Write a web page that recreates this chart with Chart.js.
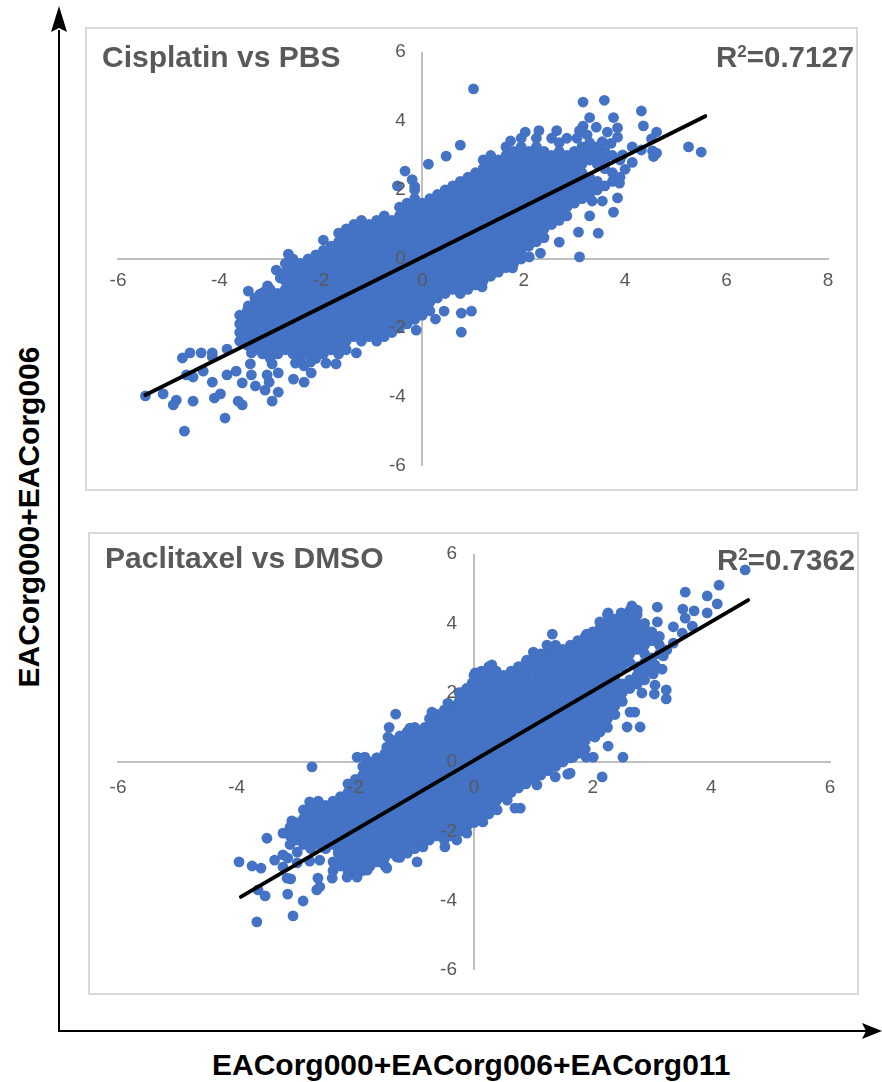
<!DOCTYPE html>
<html><head><meta charset="utf-8">
<script src="https://cdn.jsdelivr.net/npm/chart.js@4"></script>
<style>
html,body{margin:0;padding:0;background:#fff;width:882px;height:1082px;overflow:hidden}
body{position:relative;font-family:"Liberation Sans",Arial,sans-serif}
.frame{position:absolute;box-sizing:border-box;border:2px solid #d9d9d9;background:#fff}
.frame canvas{position:absolute;left:0;top:0}
.lab{position:absolute;font-weight:bold;color:#595959;font-size:30px;line-height:30px;white-space:nowrap}
.lab.r{font-size:29.5px}
.lab sup{font-size:17px;line-height:0;vertical-align:10px}
.axt{position:absolute;font-weight:bold;color:#000;font-size:30px;line-height:30px;white-space:nowrap}
svg{position:absolute;left:0;top:0}
</style></head><body>
<svg width="882" height="1082">
<line x1="59" y1="30" x2="59" y2="1031" stroke="#000" stroke-width="2"/>
<line x1="58" y1="1031" x2="866" y2="1031" stroke="#000" stroke-width="2"/>
<path d="M59 6 L67 32 L59 28 L51 32 Z" fill="#000"/>
<path d="M882 1031 L862 1023 L866 1031 L862 1039 Z" fill="#000"/>
</svg>
<div class="frame" style="left:85px;top:27px;width:773px;height:464px"><canvas id="c1" width="769" height="460"></canvas></div>
<div class="frame" style="left:88px;top:532px;width:771px;height:463px"><canvas id="c2" width="767" height="459"></canvas></div>
<div class="lab" style="left:102px;top:42px">Cisplatin vs PBS</div>
<div class="lab r" style="left:716px;top:42px">R<sup>2</sup>=0.7127</div>
<div class="lab" style="left:105px;top:543px">Paclitaxel vs DMSO</div>
<div class="lab r" style="left:717px;top:545px">R<sup>2</sup>=0.7362</div>
<div class="axt" id="xt" style="left:212px;top:1050px">EACorg000+EACorg006+EACorg011</div>
<div class="axt" id="yt" style="left:29px;top:517px;transform:translate(-50%,-50%) rotate(-90deg)">EACorg000+EACorg006</div>
<script>
// The solid core of each cloud cannot be resolved into single
// dots, so it is hand-entered as columns [x, y, y, ...] traced to the visible outline.
const cisplatinCore = [
[-3.6,-2.38,-2.13,-1.88,-1.63],
[-3.45,-2.5,-2.25,-2,-1.75,-1.5],
[-3.3,-2.63,-2.38,-2.13,-1.88,-1.63,-1.38,-1.13],
[-3.15,-2.75,-2.5,-2.25,-2,-1.75,-1.5,-1.25,-1],
[-3,-2.88,-2.63,-2.38,-2.13,-1.88,-1.63,-1.38,-1.13,-.88],
[-2.85,-2.75,-2.5,-2.25,-2,-1.75,-1.5,-1.25,-1],
[-2.7,-2.63,-2.38,-2.13,-1.88,-1.63,-1.38,-1.13,-.88,-.63,-.38,-.13],
[-2.55,-2.75,-2.5,-2.25,-2,-1.75,-1.5,-1.25,-1,-.75,-.5,-.25,0],
[-2.4,-2.88,-2.63,-2.38,-2.13,-1.88,-1.63,-1.38,-1.13,-.88,-.63,-.38,-.13],
[-2.25,-2.75,-2.5,-2.25,-2,-1.75,-1.5,-1.25,-1,-.75,-.5,-.25,0],
[-2.1,-2.88,-2.63,-2.38,-2.13,-1.88,-1.63,-1.38,-1.13,-.88,-.63,-.38,-.13,.12],
[-1.95,-2.75,-2.5,-2.25,-2,-1.75,-1.5,-1.25,-1,-.75,-.5,-.25,0,.25],
[-1.8,-2.63,-2.38,-2.13,-1.88,-1.63,-1.38,-1.13,-.88,-.63,-.38,-.13,.12,.37],
[-1.65,-2.75,-2.5,-2.25,-2,-1.75,-1.5,-1.25,-1,-.75,-.5,-.25,0,.25,.5,.75],
[-1.5,-2.63,-2.38,-2.13,-1.88,-1.63,-1.38,-1.13,-.88,-.63,-.38,-.13,.12,.37,.62,.87],
[-1.35,-2.25,-2,-1.75,-1.5,-1.25,-1,-.75,-.5,-.25,0,.25,.5,.75,1],
[-1.2,-2.38,-2.13,-1.88,-1.63,-1.38,-1.13,-.88,-.63,-.38,-.13,.12,.37,.62,.87,1.12],
[-1.05,-2.25,-2,-1.75,-1.5,-1.25,-1,-.75,-.5,-.25,0,.25,.5,.75,1],
[-.9,-2.38,-2.13,-1.88,-1.63,-1.38,-1.13,-.88,-.63,-.38,-.13,.12,.37,.62,.87,1.12],
[-.75,-2.25,-2,-1.75,-1.5,-1.25,-1,-.75,-.5,-.25,0,.25,.5,.75,1,1.25],
[-.6,-2.13,-1.88,-1.63,-1.38,-1.13,-.88,-.63,-.38,-.13,.12,.37,.62,.87,1.12],
[-.45,-2,-1.75,-1.5,-1.25,-1,-.75,-.5,-.25,0,.25,.5,.75,1,1.25,1.5],
[-.3,-1.88,-1.63,-1.38,-1.13,-.88,-.63,-.38,-.13,.12,.37,.62,.87,1.12,1.37,1.62],
[-.15,-1.75,-1.5,-1.25,-1,-.75,-.5,-.25,0,.25,.5,.75,1,1.25,1.5,1.75,2],
[0,-1.63,-1.38,-1.13,-.88,-.63,-.38,-.13,.12,.37,.62,.87,1.12,1.37,1.62],
[.15,-1.5,-1.25,-1,-.75,-.5,-.25,0,.25,.5,.75,1,1.25,1.5,1.75],
[.3,-1.13,-.88,-.63,-.38,-.13,.12,.37,.62,.87,1.12,1.37,1.62,1.87],
[.45,-1,-.75,-.5,-.25,0,.25,.5,.75,1,1.25,1.5,1.75,2],
[.6,-.88,-.63,-.38,-.13,.12,.37,.62,.87,1.12,1.37,1.62,1.87,2.12],
[.75,-1,-.75,-.5,-.25,0,.25,.5,.75,1,1.25,1.5,1.75,2,2.25],
[.9,-.88,-.63,-.38,-.13,.12,.37,.62,.87,1.12,1.37,1.62,1.87,2.12,2.37],
[1.05,-.75,-.5,-.25,0,.25,.5,.75,1,1.25,1.5,1.75,2,2.25,2.5],
[1.2,-.63,-.38,-.13,.12,.37,.62,.87,1.12,1.37,1.62,1.87,2.12,2.37,2.62,2.87],
[1.35,-.5,-.25,0,.25,.5,.75,1,1.25,1.5,1.75,2,2.25,2.5,2.75,3],
[1.5,-.38,-.13,.12,.37,.62,.87,1.12,1.37,1.62,1.87,2.12,2.37,2.62,2.87],
[1.65,-.25,0,.25,.5,.75,1,1.25,1.5,1.75,2,2.25,2.5,2.75,3,3.25],
[1.8,-.13,.12,.37,.62,.87,1.12,1.37,1.62,1.87,2.12,2.37,2.62,2.87,3.12],
[1.95,0,.25,.5,.75,1,1.25,1.5,1.75,2,2.25,2.5,2.75,3,3.25,3.5],
[2.1,.37,.62,.87,1.12,1.37,1.62,1.87,2.12,2.37,2.62,2.87,3.12],
[2.25,.5,.75,1,1.25,1.5,1.75,2,2.25,2.5,2.75,3,3.25,3.5],
[2.4,.62,.87,1.12,1.37,1.62,1.87,2.12,2.37,2.62,2.87,3.12],
[2.55,1,1.25,1.5,1.75,2,2.25,2.5,2.75,3,3.5],
[2.7,1.12,1.37,1.62,1.87,2.12,2.37,2.62,2.87,3.12,3.37],
[2.85,1.25,1.5,1.75,2,2.25,2.5,2.75,3,3.5],
[3,1.62,1.87,2.12,2.37,2.62,2.87,3.12],
[3.15,1.75,2,2.25,2.5,2.75,3,3.25],
[3.3,1.87,2.12,2.37,2.87,3.12,3.37],
[3.45,2,2.25,2.75,3,3.25],
[3.6,2.12,2.62,2.87,3.12],
[3.75,2.25,2.5,3],
[3.9,2.37,2.87]
];
const cisplatinOutliers = [
[1.01,4.93],[3.17,4.55],[3.59,4.6],[4.32,4.29],[4.36,3.86],[4.62,3.68],[4.52,3.48],[5.25,3.25],[5.5,3.1],
[4.56,2.97],[4.62,3.07],[4.54,3.13],[4.32,3.16],[4.14,3.25],[4.14,2.8],[3.77,4.1],[3.3,4.1],[3.17,3.85],
[3.43,3.82],[3.85,3.8],[3.65,3.68],[3.85,3.53],[2.03,3.68],[1.74,3.42],[.75,3.3],[.47,2.98],[.12,2.75],
[3.89,2.2],[3.85,1.77],[3.55,1.68],[3.35,1.68],[3.77,1.36],[3.3,1.25],[3.08,.78],[3.47,.75],[2.7,.49],
[3.1,.06],[2.33,.17],[2.11,.06],[1.78,-.26],[-.34,2.55],[-.49,2.12],[-1.95,.55],[-2.64,.14],
[-5.46,-3.97],[-5.11,-3.91],[-4.85,-4.09],[-4.91,-4.23],[-4.69,-4.99],[-4.52,-4.12],[-4.73,-2.87],
[-4.58,-2.72],[-4.36,-2.72],[-4.14,-2.72],[-4.14,-2.84],[-4.65,-3.36],[-4.52,-3.42],[-4.32,-3.25],
[-4.14,-3.57],[-3.85,-3.36],[-3.85,-2.61],[-3.67,-3.25],[-4.1,-4.03],[-3.98,-3.91],[-3.89,-4.61],
[-3.63,-4.12],[-3.55,-4.23],[-3.55,-3.59],[-3.37,-3.36],[-3.29,-3.68],[-3.39,-3.04],[-3.37,-2.72],
[-3.1,-3.8],[-2.96,-4.12],[-2.84,-3.86],[-3.02,-3.57],[-3.06,-3.36],[-2.84,-3.3],[-2.54,-3.48],
[-2.33,-3.57],[-2.19,-3.3],[-2.33,-3.1],[-1.7,-3.04],[-1.3,-2.72],[-2.96,-3.04],[-3.43,-.93],
[-3.43,-1.36],[-2.88,-.32],[.26,-1.74],[.43,-1.51],[.77,-1.57],[.97,-1.51],[.77,-2.12],[-.12,-2.06],[1.18,-.81],
[-3.12,-.95],[-3.05,-.78],[-3.2,-1.02],[-2.8,-.55],[-2.5,-3.02],[-2.2,-2.98],[-1.9,-3.02],[-.2,2.3],[-.15,2.1],
[2.3,3.72],[2.65,3.72],[3.05,3.5],[3.1,3.72],[3.25,3.6],[3.55,3.4],[3.72,3.35],[3.95,3.02],[4,2.6]
];
const cisplatinTrend = [[-5.46,-3.94],[5.58,4.14]];

const paclitaxelCore = [
[-3.1,-2.38,-2.13,-1.88],
[-3,-2.25,-2,-1.75],
[-2.875,-2.38,-2.13,-1.88,-1.63,-1.38],
[-2.75,-2.5,-2.25,-2,-1.75,-1.5,-1.25],
[-2.625,-2.38,-2.13,-1.88,-1.63,-1.38,-1.13],
[-2.5,-2.5,-2.25,-2,-1.75,-1.5,-1.25],
[-2.375,-3.13,-2.88,-2.38,-2.13,-1.88,-1.63,-1.38,-1.13],
[-2.25,-3,-2.75,-2.5,-2.25,-2,-1.75,-1.5,-1.25,-1],
[-2.125,-3.13,-2.88,-2.63,-2.38,-2.13,-1.88,-1.63,-1.38,-1.13,-.88,-.63],
[-2,-3.25,-3,-2.75,-2.5,-2.25,-2,-1.75,-1.5,-1.25,-1,-.75,-.5],
[-1.875,-3.13,-2.88,-2.63,-2.38,-2.13,-1.88,-1.63,-1.38,-1.13,-.88,-.63,-.38,-.13],
[-1.75,-3,-2.75,-2.5,-2.25,-2,-1.75,-1.5,-1.25,-1,-.75,-.5,-.25,0],
[-1.625,-2.88,-2.63,-2.38,-2.13,-1.88,-1.63,-1.38,-1.13,-.88,-.63,-.38,-.13,.12],
[-1.5,-3,-2.75,-2.5,-2.25,-2,-1.75,-1.5,-1.25,-1,-.75,-.5,-.25,0,.25],
[-1.375,-2.63,-2.38,-2.13,-1.88,-1.63,-1.38,-1.13,-.88,-.63,-.38,-.13,.12,.37,.62],
[-1.25,-2.75,-2.5,-2.25,-2,-1.75,-1.5,-1.25,-1,-.75,-.5,-.25,0,.25,.5,.75],
[-1.125,-2.63,-2.38,-2.13,-1.88,-1.63,-1.38,-1.13,-.88,-.63,-.38,-.13,.12,.37,.62,.87],
[-1,-2.5,-2.25,-2,-1.75,-1.5,-1.25,-1,-.75,-.5,-.25,0,.25,.5,.75,1],
[-.875,-2.38,-2.13,-1.88,-1.63,-1.38,-1.13,-.88,-.63,-.38,-.13,.12,.37,.62,.87],
[-.75,-2.25,-2,-1.75,-1.5,-1.25,-1,-.75,-.5,-.25,0,.25,.5,.75,1,1.25],
[-.625,-2.13,-1.88,-1.63,-1.38,-1.13,-.88,-.63,-.38,-.13,.12,.37,.62,.87,1.12,1.37],
[-.5,-2.25,-2,-1.75,-1.5,-1.25,-1,-.75,-.5,-.25,0,.25,.5,.75,1,1.25,1.5],
[-.375,-2.13,-1.88,-1.63,-1.38,-1.13,-.88,-.63,-.38,-.13,.12,.37,.62,.87,1.12,1.37,1.62],
[-.25,-2,-1.75,-1.5,-1.25,-1,-.75,-.5,-.25,0,.25,.5,.75,1,1.25,1.5,1.75,2],
[-.125,-1.88,-1.63,-1.38,-1.13,-.88,-.63,-.38,-.13,.12,.37,.62,.87,1.12,1.37,1.62,1.87,2.12],
[0,-1.75,-1.5,-1.25,-1,-.75,-.5,-.25,0,.25,.5,.75,1,1.25,1.5,1.75,2,2.25,2.5],
[.125,-1.63,-1.38,-1.13,-.88,-.63,-.38,-.13,.12,.37,.62,.87,1.12,1.37,1.62,1.87,2.12,2.37,2.62],
[.25,-1.5,-1.25,-1,-.75,-.5,-.25,0,.25,.5,.75,1,1.25,1.5,1.75,2,2.25,2.5,2.75],
[.375,-1.13,-.88,-.63,-.38,-.13,.12,.37,.62,.87,1.12,1.37,1.62,1.87,2.12,2.37,2.62],
[.5,-1,-.75,-.5,-.25,0,.25,.5,.75,1,1.25,1.5,1.75,2,2.25,2.5],
[.625,-.88,-.63,-.38,-.13,.12,.37,.62,.87,1.12,1.37,1.62,1.87,2.12,2.37,2.62],
[.75,-.75,-.5,-.25,0,.25,.5,.75,1,1.25,1.5,1.75,2,2.25,2.5,2.75],
[.875,-.63,-.38,-.13,.12,.37,.62,.87,1.12,1.37,1.62,1.87,2.12,2.37,2.62,2.87],
[1,-.5,-.25,0,.25,.5,.75,1,1.25,1.5,1.75,2,2.25,2.5,2.75,3],
[1.125,-.38,-.13,.12,.37,.62,.87,1.12,1.37,1.62,1.87,2.12,2.37,2.62,2.87,3.12],
[1.25,-.25,0,.25,.5,.75,1,1.25,1.5,1.75,2,2.25,2.5,2.75,3,3.25],
[1.375,-.13,.12,.37,.62,.87,1.12,1.37,1.62,1.87,2.12,2.37,2.62,2.87,3.12,3.37],
[1.5,0,.25,.5,.75,1,1.25,1.5,1.75,2,2.25,2.5,2.75,3,3.25],
[1.625,.12,.37,.62,.87,1.12,1.37,1.62,1.87,2.12,2.37,2.62,2.87,3.12,3.37],
[1.75,.25,.5,.75,1,1.25,1.5,1.75,2,2.25,2.5,2.75,3,3.25,3.5],
[1.875,.37,.62,.87,1.12,1.37,1.62,1.87,2.12,2.37,2.62,2.87,3.12,3.37,3.62],
[2,.75,1,1.25,1.5,1.75,2,2.25,2.5,2.75,3,3.25,3.5,3.75],
[2.125,.87,1.12,1.37,1.62,1.87,2.12,2.37,2.62,2.87,3.12,3.37,3.62,3.87],
[2.25,1,1.25,1.5,1.75,2,2.25,2.5,2.75,3,3.25,3.5,3.75,4,4.25],
[2.375,1.37,1.62,1.87,2.12,2.37,2.62,2.87,3.12,3.37,3.62,3.87,4.12],
[2.5,1.75,2,2.25,2.75,3,3.25,3.5,3.75,4,4.25],
[2.625,2.12,2.37,2.87,3.12,3.37,3.62,3.87,4.12,4.37],
[2.75,2.25,2.5,2.75,3.25,3.5,3.75,4,4.25],
[2.875,2.37,2.62,2.87,3.12,3.37,3.62,3.87,4],
[3,2.75,3,3.5,3.75],
[3.125,3.12,3.37,3.62]
];
const paclitaxelOutliers = [
[4.57,5.54],[4.13,5.1],[3.93,4.79],[4.1,4.56],[3.93,4.3],[3.56,4.9],[3.52,4.41],[3.71,4.36],[3.56,4.15],
[3.68,3.92],[3.09,4.47],[3.09,4.04],[3.36,3.9],[3.51,3.72],[3.36,3.43],[3.25,3.23],[3.19,3.06],[3.17,2.68],
[3.05,2.8],[3.02,2.54],[3.24,2.08],[3.24,1.82],[3.04,1.96],[3.05,2.22],[2.83,1.99],[2.63,1.44],[2.71,1.44],
[2.58,1.01],[2.8,1.01],[2.26,.46],[2.04,.72],[2.51,.14],[2.01,.14],[1.89,.14],[2.16,-.43],[1.62,-.32],
[1.67,.14],[1.84,.4],[1.37,-.43],[1.58,-.35],[1.06,-.66],[.69,-1.33],[.78,-1.33],[.56,-1.1],[.39,-1.38],[.15,-1.73],
[-.12,-2.05],[-.29,-2.25],[-.49,-2.45],[-.96,-2.88],[-.86,-2.45],[-1.25,-2.74],[-1.3,-2.74],[-1.47,-3.06],
[-1.8,-3.12],[-1.97,-3.32],[-2.14,-3.32],[-2.39,-3.35],[-2.63,-3.35],[-2.65,-3.69],[-2.6,-3.6],
[-3.96,-2.88],[-3.74,-3],[-3.59,-3.06],[-3.64,-3.69],[-3.52,-3.86],[-3.66,-4.61],[-3.14,-3.81],[-3.05,-4.44],
[-2.88,-4.01],[-3.15,-3.35],[-3.09,-3.37],[-3.36,-2.83],[-3.22,-2.68],[-3.14,-2.77],[-3.22,-3.03],[-2.98,-2.6],
[-2.98,-2.91],[-2.77,-2.86],[-2.6,-2.83],[-2.29,-2.62],[-3.49,-2.2],[-3.22,-2.05],[-3.07,-1.7],[-2.82,-1.38],
[-2.77,-1.15],[-2.73,-.14],[-1.97,.14],[-1.84,.14],[-1.64,.12],[-1.47,.43],[-1.45,.72],[-1.43,1],[-1.32,1.38],
[-1.08,.98],[-.83,1],[-.71,1.44],[-.44,1.7],[-.2,2],[-.03,2.28],[.02,2.57],[.3,2.8],[.89,2.94],[1,3.17],
[1.23,3.37],[1.32,3.69],[1.9,3.69],[2.12,4.04],[2.26,4.3],[2.48,4.3],[2.66,4.5],[2.75,4.38]
];
const paclitaxelTrend = [[-3.93,-3.89],[4.62,4.67]];

const cisplatinXRange = [-6,8];
const paclitaxelXRange = [-6,6];
const yRange = [-6,6];
const tickStep = 2;
const pointColor = '#4472C4';

function toPoints(core, outliers){
  const pts = [];
  core.forEach(col => { for(let i=1;i<col.length;i++) pts.push({x:col[0],y:col[i]}); });
  outliers.forEach(p => pts.push({x:p[0],y:p[1]}));
  return pts;
}
function draw(id, core, outliers, trend, xRange, pad, name, xLabelGap, yLabelAt){
  const ticks = p => ({stepSize:tickStep,autoSkip:false,maxRotation:0,color:'#595959',padding:p,z:1,
      font:{family:'"Liberation Sans"',size:19}});
  new Chart(document.getElementById(id),{
    type:'scatter',
    data:{datasets:[
      {label:'Trend',data:trend.map(p=>({x:p[0],y:p[1]})),showLine:true,pointRadius:0,borderColor:'#000',borderWidth:4,borderCapStyle:'round',order:0},
      {label:name,data:toPoints(core,outliers),backgroundColor:pointColor,borderWidth:0,pointRadius:5.4,order:1}
    ]},
    options:{responsive:false,animation:false,events:[],
      layout:{padding:pad},
      plugins:{legend:{display:false},tooltip:{enabled:false},title:{display:false}},
      scales:{
        x:{type:'linear',min:xRange[0],max:xRange[1],position:{y:0},
           grid:{display:true,drawTicks:false,lineWidth:2,color:c=>c.tick&&c.tick.value===0?'#bfbfbf':'rgba(0,0,0,0)'},
           border:{display:true,color:'#bfbfbf',width:2},ticks:ticks(xLabelGap)},
        y:{type:'linear',min:yRange[0],max:yRange[1],position:{x:yLabelAt},
           grid:{display:false,drawTicks:false},border:{display:false},ticks:ticks(0)}
      }
    }
  });
}
draw('c1',cisplatinCore,cisplatinOutliers,cisplatinTrend,cisplatinXRange,{left:31,right:28,top:23,bottom:23},'Cisplatin vs PBS',10,-0.325);
draw('c2',paclitaxelCore,paclitaxelOutliers,paclitaxelTrend,paclitaxelXRange,{left:28,right:27,top:20,bottom:23},'Paclitaxel vs DMSO',14,-0.287);
</script>
</body></html>
